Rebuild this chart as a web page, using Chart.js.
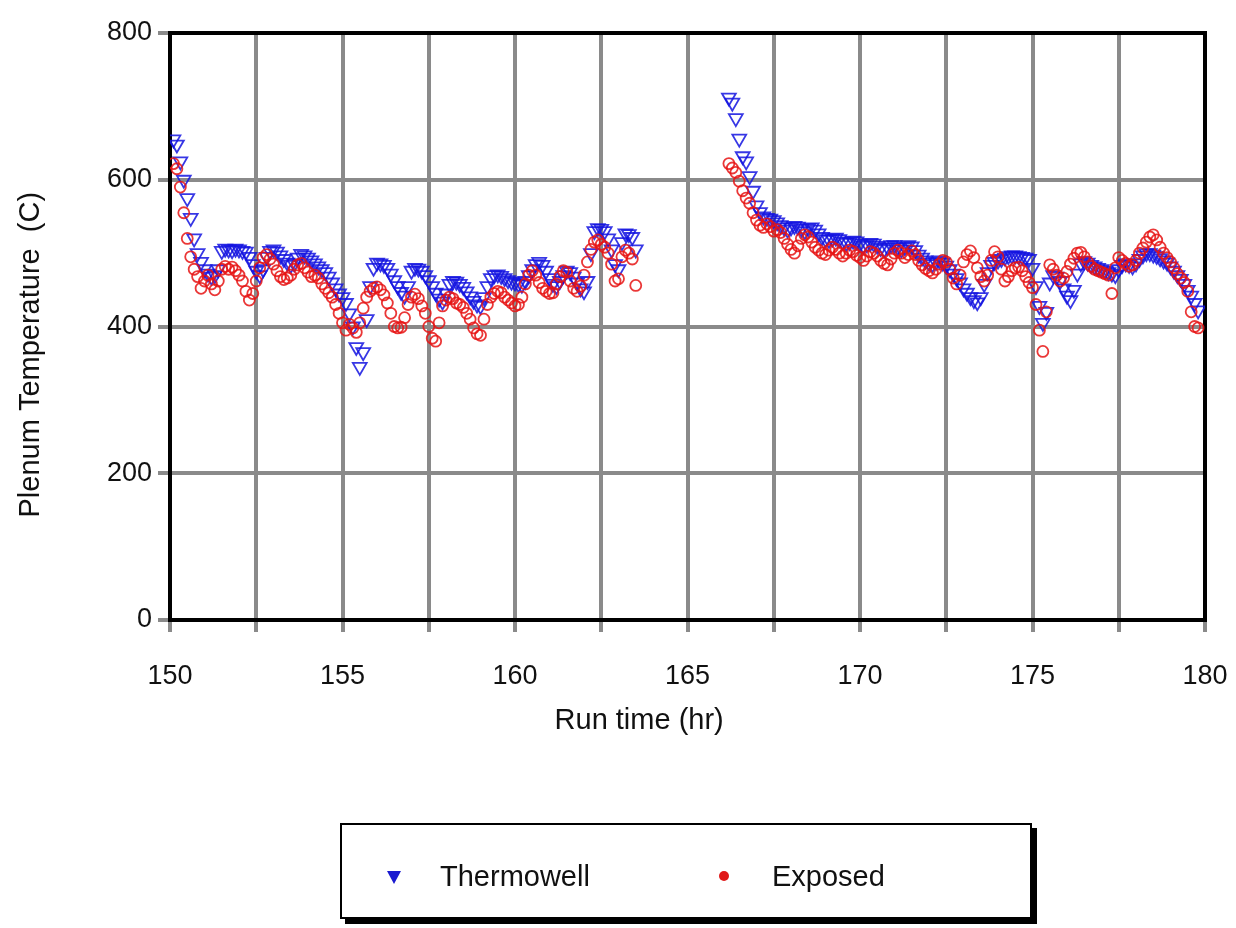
<!DOCTYPE html>
<html>
<head>
<meta charset="utf-8">
<script src="https://cdn.jsdelivr.net/npm/chart.js@4.4.0/dist/chart.umd.min.js"></script>
<style>
  body { margin: 0; background: #fff; font-family: "Liberation Sans", Arial, sans-serif; }
  #wrap { position: relative; width: 1236px; height: 928px; }
  #legend {
    position: absolute; left: 340px; top: 823px; width: 688px; height: 92px;
    border: 2px solid #000; box-shadow: 5px 5px 0 #000; background: #fff;
  }
  .item { position: absolute; top: 34px; font-size: 29px; color: #111; line-height: 34px; }
  .tri {
    position: absolute; top: 12px; width: 0; height: 0;
    border-left: 7px solid transparent; border-right: 7px solid transparent;
    border-top: 13px solid #1a1ad0;
  }
  .dot { position: absolute; top: 12px; width: 10px; height: 10px; border-radius: 50%; background: #e01818; }
</style>
</head>
<body>
<div id="wrap">
  <canvas id="myChart" width="1236" height="928"></canvas>
  <div id="legend">
    <div class="item" style="left:45px"><span class="tri" style="left:0"></span><span style="margin-left:53px">Thermowell</span></div>
    <div class="item" style="left:377px"><span class="dot" style="left:0"></span><span style="margin-left:53px">Exposed</span></div>
  </div>
</div>
<script>
// samples every 0.1 hr, two run segments
const sampleStep = 0.1;
const seg1Start = 150.1; // to 163.5
const seg2Start = 166.2; // to 179.8

const thermowellSeg1 = [
  655, 648, 625, 600, 575, 548, 520, 500, 488, 478,
  472, 468, 470, 478, 503, 506, 505, 504, 506, 505,
  503, 502, 495, 485, 476, 470, 478, 495, 503, 505,
  502, 497, 492, 487, 484, 486, 494, 499, 497, 494,
  490, 486, 482, 478, 474, 468, 460, 452, 445, 440,
  432, 418, 400, 372, 345, 365, 410, 455, 480, 487,
  486, 484, 480, 472, 463, 455, 447, 442, 455, 476,
  480, 479, 476, 470, 463, 455, 446, 438, 434, 445,
  458, 462, 461, 458, 454, 448, 441, 435, 430, 428,
  440, 455, 466, 470, 471, 469, 466, 463, 461, 460,
  458, 457, 462, 470, 478, 485, 488, 484, 476, 466,
  458, 455, 462, 470, 476, 474, 468, 460, 452, 448,
  462, 500, 530, 534, 533, 530, 520, 505, 485, 478,
  515, 527, 526, 522, 505
];
const exposedSeg1 = [
  622, 615, 590, 555, 520, 495, 478, 468, 452, 462,
  470, 458, 450, 462, 478, 482, 478, 481, 476, 470,
  462, 448, 436, 445, 462, 480, 494, 498, 492, 485,
  476, 468, 464, 466, 470, 478, 484, 486, 480, 474,
  468, 470, 466, 458, 452, 446, 440, 430, 418, 405,
  395, 403, 398, 392, 405, 425, 440, 448, 452, 454,
  450, 443, 432, 418, 400, 398, 399, 412, 430, 440,
  444, 438, 428, 418, 400, 384, 380, 405, 428, 436,
  440, 438, 432, 430, 426, 418, 410, 398, 390, 388,
  410, 430, 440, 445, 448, 446, 440, 436, 432, 428,
  430, 440, 458, 470, 476, 470, 460, 452, 448, 445,
  446, 458, 468, 476, 474, 462, 452, 448, 455, 470,
  488, 505, 515, 518, 512, 508, 500, 485, 462, 465,
  495, 504, 500, 492, 456
];
const thermowellSeg2 = [
  712, 705, 684, 656, 632, 625, 605, 585, 565,
  556, 550, 548, 547, 545, 542, 538, 535, 532, 535,
  537, 536, 533, 530, 534, 535, 532, 527, 522, 519,
  518, 520, 521, 519, 516, 514, 515, 517, 516, 513,
  510, 512, 514, 513, 510, 507, 505, 508, 511, 511,
  508, 505, 508, 511, 509, 504, 498, 494, 490, 487,
  485, 488, 490, 487, 483, 478, 472, 466, 460, 452,
  446, 440, 436, 433, 440, 458, 474, 484, 488, 490,
  492, 494, 496, 497, 497, 496, 495, 494, 492, 480,
  455, 428, 405, 420, 460, 470, 468, 462, 452, 442,
  436, 450, 472, 486, 489, 487, 484, 482, 480, 478,
  476, 474, 472, 470, 478, 484, 486, 484, 482, 486,
  492, 497, 500, 500, 498, 496, 493, 490, 487, 482,
  476, 470, 465, 458, 450, 442, 432, 422
];
const exposedSeg2 = [
  622, 616, 610, 598, 585, 575, 568, 555, 545,
  538, 535, 540, 536, 530, 532, 528, 520, 512, 505,
  500, 510, 520, 525, 522, 515, 508, 504, 500, 498,
  504, 508, 505, 500, 496, 500, 504, 502, 497, 494,
  490, 496, 502, 500, 496, 490, 486, 484, 492, 500,
  504, 500, 494, 498, 503, 498, 490, 484, 479, 476,
  473, 478, 485, 490, 488, 478, 466, 458, 470, 488,
  498, 503, 494, 480, 468, 462, 470, 490, 502, 495,
  478, 462, 468, 476, 480, 481, 476, 468, 460, 453,
  430, 395, 366, 420, 484, 478, 470, 462, 466, 475,
  485, 493, 500, 501, 495, 488, 482, 478, 476, 474,
  472, 470, 445, 480, 494, 490, 486, 482, 484, 490,
  500, 507, 515, 522, 525, 518, 508, 500, 494, 488,
  480, 472, 466, 460, 448, 420, 400, 398
];

const xTickLabels = [150, 155, 160, 165, 170, 175, 180];
const yTickLabels = [0, 200, 400, 600, 800];

function toPoints(start, vals) {
  return vals.map((v, i) => ({ x: +(start + i * sampleStep).toFixed(2), y: v }));
}

const thermowellData = toPoints(seg1Start, thermowellSeg1).concat(toPoints(seg2Start, thermowellSeg2));
const exposedData = toPoints(seg1Start, exposedSeg1).concat(toPoints(seg2Start, exposedSeg2));

const frame = {
  id: "frame",
  beforeDatasetsDraw(chart) {
    const { ctx, chartArea: a } = chart;
    ctx.save();
    ctx.strokeStyle = "#000";
    ctx.lineWidth = 4;
    ctx.strokeRect(a.left, a.top, a.right - a.left, a.bottom - a.top);
    ctx.restore();
  }
};

const gridStyle = { color: "#8a8a8a", lineWidth: 4, tickLength: 12, tickColor: "#8a8a8a" };
const tickFont = { family: "Liberation Sans", size: 27 };
const titleFont = { family: "Liberation Sans", size: 29 };

let ctx = document.getElementById("myChart").getContext("2d");
let myChart = new Chart(ctx, {
  type: "scatter",
  data: {
    datasets: [
      {
        label: "Thermowell",
        data: thermowellData,
        pointStyle: "triangle",
        rotation: 180,
        radius: 8,
        borderWidth: 1.8,
        borderColor: "rgba(20,20,225,0.85)",
        backgroundColor: "rgba(0,0,0,0)",
        order: 2
      },
      {
        label: "Exposed",
        data: exposedData,
        pointStyle: "circle",
        radius: 5.5,
        borderWidth: 1.8,
        borderColor: "rgba(230,20,20,0.85)",
        backgroundColor: "rgba(0,0,0,0)",
        order: 1
      }
    ]
  },
  options: {
    responsive: false,
    animation: false,
    layout: { padding: { left: 0, top: 33, right: 31, bottom: 188 } },
    plugins: { legend: { display: false }, tooltip: { enabled: false } },
    scales: {
      x: {
        type: "linear",
        min: 150,
        max: 180,
        afterFit: s => { s.height = 120; s.paddingLeft = 0; s.paddingRight = 0; },
        afterBuildTicks: s => {
          const t = [];
          for (let v = 150; v <= 180; v += 2.5) t.push({ value: v });
          s.ticks = t;
        },
        grid: gridStyle,
        border: { display: true, color: "#000", width: 4 },
        ticks: {
          font: tickFont,
          color: "#111",
          padding: 28,
          maxRotation: 0,
          autoSkip: false,
          callback: v => (xTickLabels.includes(v) ? v : "")
        },
        title: {
          display: true,
          // trailing spaces pull the visible text left of centre, as in the original
          text: "Run time (hr)            ",
          font: titleFont,
          color: "#111",
          padding: { top: 0, bottom: 2 }
        }
      },
      y: {
        min: 0,
        max: 800,
        afterFit: s => { s.width = 170; },
        afterBuildTicks: s => { s.ticks = yTickLabels.map(v => ({ value: v })); },
        grid: gridStyle,
        border: { display: true, color: "#000", width: 4 },
        ticks: { font: tickFont, color: "#111", padding: 6 },
        title: {
          display: true,
          text: "Plenum Temperature  (C)       ",
          font: titleFont,
          color: "#111",
          padding: { top: 14, bottom: 0 }
        }
      }
    }
  },
  plugins: [frame]
});
</script>
</body>
</html>
